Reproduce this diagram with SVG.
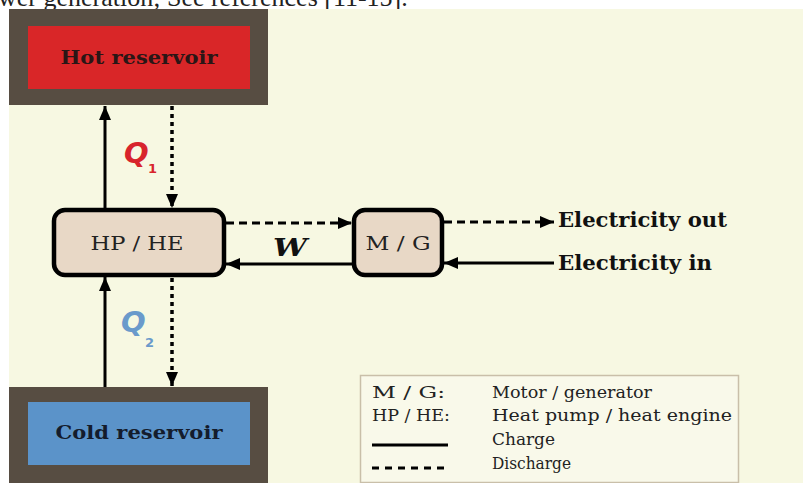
<svg xmlns="http://www.w3.org/2000/svg" width="803" height="483" viewBox="0 0 803 483">
<defs>
<style>
.serif{font-family:"DejaVu Serif","Liberation Serif",serif;}
.node{fill:#e8d8c6;stroke:#000;stroke-width:4.5;}
.frame{fill:#574d42;}
.solid{stroke:#000;stroke-width:3;fill:none;}
.dotv{stroke:#000;stroke-width:3.5;fill:none;stroke-dasharray:4 4;}
.dash{stroke:#000;stroke-width:3;fill:none;stroke-dasharray:8 5;}
.lbl{font-size:18px;fill:#222;text-anchor:middle;}
.big{font-size:19px;font-weight:bold;}
.leg{font-size:16.5px;fill:#222;}
</style>
<marker id="ah" viewBox="0 0 14 12" refX="14" refY="6" markerWidth="14" markerHeight="12" markerUnits="userSpaceOnUse" orient="auto">
<path d="M0,0 L14,6 L0,12 Z" fill="#000"/>
</marker>
</defs>
<rect x="0" y="0" width="803" height="483" fill="#fff"/>
<text x="-2" y="6" font-family="Liberation Serif,serif" font-size="26" fill="#222">wer generation; See references [11-15].</text>
<rect x="9" y="9" width="794" height="474" fill="#f7f8e2"/>

<g id="hot">
<rect class="frame" x="9" y="9" width="259" height="96"/>
<rect x="28" y="26" width="222" height="63" fill="#d92628"/>
<text class="serif big" x="139" y="64" text-anchor="middle" fill="#2a1616" textLength="157" lengthAdjust="spacingAndGlyphs">Hot reservoir</text>
</g>

<g id="cold">
<rect class="frame" x="9" y="387" width="259" height="96"/>
<rect x="28" y="402" width="222" height="63" fill="#5b93c9"/>
<text class="serif big" x="139" y="439" text-anchor="middle" fill="#141c2c" textLength="167" lengthAdjust="spacingAndGlyphs">Cold reservoir</text>
</g>

<g id="hphe">
<rect class="node" x="54" y="210" width="170" height="65" rx="11"/>
<text class="serif lbl" x="137" y="250" textLength="93" lengthAdjust="spacingAndGlyphs">HP / HE</text>
</g>

<g id="mg">
<rect class="node" x="354" y="210" width="88" height="65" rx="11"/>
<text class="serif lbl" x="398" y="250" textLength="65" lengthAdjust="spacingAndGlyphs">M / G</text>
</g>

<g id="connectors">
<line class="solid" x1="105" y1="208" x2="105" y2="106" marker-end="url(#ah)"/>
<line class="dotv" x1="172" y1="106" x2="172" y2="208" marker-end="url(#ah)"/>
<line class="solid" x1="105" y1="387" x2="105" y2="277" marker-end="url(#ah)"/>
<line class="dotv" x1="172" y1="278" x2="172" y2="386" marker-end="url(#ah)"/>
<line class="dash" x1="226" y1="223" x2="352" y2="223" marker-end="url(#ah)"/>
<line class="solid" x1="352" y1="264" x2="226" y2="264" marker-end="url(#ah)"/>
<line class="dash" x1="444" y1="222" x2="554" y2="222" marker-end="url(#ah)"/>
<line class="solid" x1="554" y1="263" x2="444" y2="263" marker-end="url(#ah)"/>
</g>

<g id="labels">
<text x="124" y="163" font-family="DejaVu Sans,sans-serif" font-size="29" font-weight="bold" font-style="italic" fill="#d8242c">Q</text>
<text x="148" y="173" font-family="DejaVu Sans,sans-serif" font-size="13" font-weight="bold" fill="#d8242c">1</text>
<text x="121" y="332" font-family="DejaVu Sans,sans-serif" font-size="29" font-weight="bold" font-style="italic" fill="#6a9acb">Q</text>
<text x="145" y="347" font-family="DejaVu Sans,sans-serif" font-size="13" font-weight="bold" fill="#6a9acb">2</text>
<text class="serif" x="273" y="256" font-size="25" font-weight="bold" font-style="italic" fill="#111" textLength="34" lengthAdjust="spacingAndGlyphs">W</text>
<text class="serif" x="558" y="227" font-size="20" font-weight="bold" fill="#111" textLength="169" lengthAdjust="spacingAndGlyphs">Electricity out</text>
<text class="serif" x="558" y="270" font-size="20" font-weight="bold" fill="#111" textLength="154" lengthAdjust="spacingAndGlyphs">Electricity in</text>
</g>

<g id="legend">
<rect x="360.5" y="375.5" width="378" height="107" fill="#f9f9ea" stroke="#c9bfa9" stroke-width="1.5"/>
<text class="serif leg" x="372" y="398" textLength="73" lengthAdjust="spacingAndGlyphs">M / G:</text>
<text class="serif leg" x="492" y="398" textLength="160" lengthAdjust="spacingAndGlyphs">Motor / generator</text>
<text class="serif leg" x="372" y="421" textLength="78" lengthAdjust="spacingAndGlyphs">HP / HE:</text>
<text class="serif leg" x="492" y="421" textLength="240" lengthAdjust="spacingAndGlyphs">Heat pump / heat engine</text>
<line x1="372" y1="445" x2="448" y2="445" stroke="#000" stroke-width="3"/>
<text class="serif leg" x="492" y="445" textLength="63" lengthAdjust="spacingAndGlyphs">Charge</text>
<line x1="372" y1="468" x2="448" y2="468" stroke="#000" stroke-width="3" stroke-dasharray="7 6"/>
<text class="serif leg" x="492" y="469" textLength="79" lengthAdjust="spacingAndGlyphs">Discharge</text>
</g>
</svg>
